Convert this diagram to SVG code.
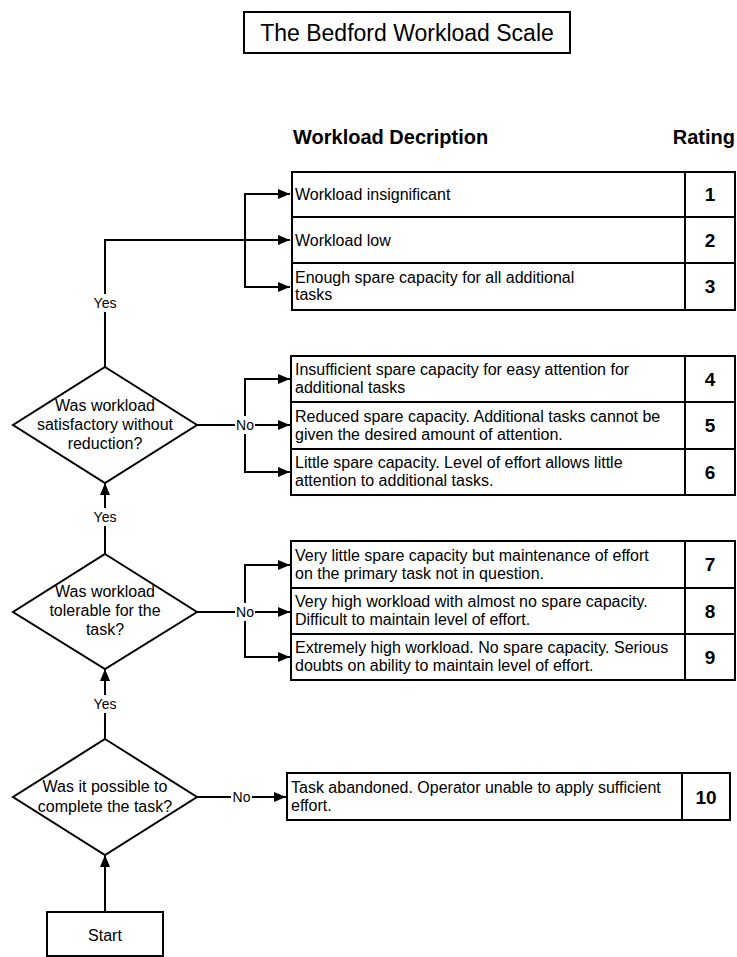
<svg xmlns="http://www.w3.org/2000/svg" width="737" height="957" viewBox="0 0 737 957">
<style>
.box{fill:#fff;stroke:#000;stroke-width:2}
.ln{fill:none;stroke:#000;stroke-width:2}
.t{font-family:"Liberation Sans",Arial,sans-serif;font-size:16px;fill:#000}
.c{text-anchor:middle}
.num{font-family:"Liberation Sans",Arial,sans-serif;font-size:19px;font-weight:bold;text-anchor:middle;fill:#000}
.hd{font-family:"Liberation Sans",Arial,sans-serif;font-size:20px;font-weight:bold;fill:#000}
.lab{font-family:"Liberation Sans",Arial,sans-serif;font-size:14px;text-anchor:middle;fill:#000}
.bg{fill:#fff}
</style>
<defs>
<marker id="ah" markerUnits="userSpaceOnUse" markerWidth="12" markerHeight="10" refX="12" refY="5" orient="auto">
<path d="M0,0 L12,5 L0,10 z" fill="#000"/>
</marker>
</defs>
<rect width="737" height="957" fill="#fff"/>

<g id="title">
<rect class="box" x="244" y="12" width="326" height="41"/>
<text class="t c" x="407" y="41" style="font-size:23px">The Bedford Workload Scale</text>
</g>

<g id="headers">
<text class="hd" x="293" y="144">Workload Decription</text>
<text class="hd" x="735" y="144" text-anchor="end">Rating</text>
</g>

<g id="connectors">
<path class="ln" d="M105,912 V855" marker-end="url(#ah)"/>
<path class="ln" d="M105,739 V669" marker-end="url(#ah)"/>
<path class="ln" d="M105,554 V483" marker-end="url(#ah)"/>
<path class="ln" d="M105,367 V240 H290" marker-end="url(#ah)"/>
<path class="ln" d="M245,240 V194 H290" marker-end="url(#ah)"/>
<path class="ln" d="M245,240 V287 H290" marker-end="url(#ah)"/>
<path class="ln" d="M197,425 H290" marker-end="url(#ah)"/>
<path class="ln" d="M245,425 V379 H290" marker-end="url(#ah)"/>
<path class="ln" d="M245,425 V472 H290" marker-end="url(#ah)"/>
<path class="ln" d="M197,612 H290" marker-end="url(#ah)"/>
<path class="ln" d="M245,612 V565 H290" marker-end="url(#ah)"/>
<path class="ln" d="M245,612 V657 H290" marker-end="url(#ah)"/>
<path class="ln" d="M197,797 H286" marker-end="url(#ah)"/>
<rect class="bg" x="91" y="294" width="28" height="18"/>
<text class="lab" x="105" y="308">Yes</text>
<rect class="bg" x="91" y="508" width="28" height="18"/>
<text class="lab" x="105" y="522">Yes</text>
<rect class="bg" x="91" y="695" width="28" height="18"/>
<text class="lab" x="105" y="709">Yes</text>
<rect class="bg" x="235" y="416" width="20" height="18"/>
<text class="lab" x="245" y="430">No</text>
<rect class="bg" x="235" y="603" width="20" height="18"/>
<text class="lab" x="245" y="617">No</text>
<rect class="bg" x="231" y="788" width="21" height="18"/>
<text class="lab" x="241.5" y="802">No</text>
</g>

<g id="q1">
<polygon class="box" points="105,367 197,425 105,483 13,425"/>
<text class="t c" x="105" y="411">Was workload</text>
<text class="t c" x="105" y="430">satisfactory without</text>
<text class="t c" x="105" y="449">reduction?</text>
</g>
<g id="q2">
<polygon class="box" points="105,554 197,612 105,669 13,612"/>
<text class="t c" x="105" y="597">Was workload</text>
<text class="t c" x="105" y="616">tolerable for the</text>
<text class="t c" x="105" y="635">task?</text>
</g>
<g id="q3">
<polygon class="box" points="105,739 197,797 105,855 13,797"/>
<text class="t c" x="105" y="792">Was it possible to</text>
<text class="t c" x="105" y="812">complete the task?</text>
</g>
<g id="start">
<rect class="box" x="47" y="912" width="116" height="44"/>
<text class="t c" x="105" y="941">Start</text>
</g>

<g id="r1">
<rect class="box" x="292" y="172" width="393" height="45"/>
<rect class="box" x="685" y="172" width="50" height="45"/>
<text class="t" x="295" y="200">Workload insignificant</text>
<text class="num" x="710" y="201">1</text>
</g>
<g id="r2">
<rect class="box" x="292" y="217" width="393" height="46"/>
<rect class="box" x="685" y="217" width="50" height="46"/>
<text class="t" x="295" y="246">Workload low</text>
<text class="num" x="710" y="247">2</text>
</g>
<g id="r3">
<rect class="box" x="292" y="263" width="393" height="47"/>
<rect class="box" x="685" y="263" width="50" height="47"/>
<text class="t" x="295" y="283">Enough spare capacity for all additional</text>
<text class="t" x="295" y="300">tasks</text>
<text class="num" x="710" y="293">3</text>
</g>

<g id="r4">
<rect class="box" x="291" y="356" width="394" height="46"/>
<rect class="box" x="685" y="356" width="50" height="46"/>
<text class="t" x="295" y="375">Insufficient spare capacity for easy attention for</text>
<text class="t" x="295" y="393">additional tasks</text>
<text class="num" x="710" y="386">4</text>
</g>
<g id="r5">
<rect class="box" x="291" y="402" width="394" height="47"/>
<rect class="box" x="685" y="402" width="50" height="47"/>
<text class="t" x="295" y="422">Reduced spare capacity. Additional tasks cannot be</text>
<text class="t" x="295" y="440">given the desired amount of attention.</text>
<text class="num" x="710" y="432">5</text>
</g>
<g id="r6">
<rect class="box" x="291" y="449" width="394" height="46"/>
<rect class="box" x="685" y="449" width="50" height="46"/>
<text class="t" x="295" y="468">Little spare capacity. Level of effort allows little</text>
<text class="t" x="295" y="486">attention to additional tasks.</text>
<text class="num" x="710" y="479">6</text>
</g>

<g id="r7">
<rect class="box" x="291" y="541" width="394" height="47"/>
<rect class="box" x="685" y="541" width="50" height="47"/>
<text class="t" x="295" y="561">Very little spare capacity but maintenance of effort</text>
<text class="t" x="295" y="579">on the primary task not in question.</text>
<text class="num" x="710" y="571">7</text>
</g>
<g id="r8">
<rect class="box" x="291" y="588" width="394" height="46"/>
<rect class="box" x="685" y="588" width="50" height="46"/>
<text class="t" x="295" y="607">Very high workload with almost no spare capacity.</text>
<text class="t" x="295" y="625">Difficult to maintain level of effort.</text>
<text class="num" x="710" y="618">8</text>
</g>
<g id="r9">
<rect class="box" x="291" y="634" width="394" height="46"/>
<rect class="box" x="685" y="634" width="50" height="46"/>
<text class="t" x="295" y="653">Extremely high workload. No spare capacity. Serious</text>
<text class="t" x="295" y="671">doubts on ability to maintain level of effort.</text>
<text class="num" x="710" y="664">9</text>
</g>

<g id="r10">
<rect class="box" x="287" y="773" width="395" height="47"/>
<rect class="box" x="682" y="773" width="48" height="47"/>
<text class="t" x="291" y="793">Task abandoned. Operator unable to apply sufficient</text>
<text class="t" x="291" y="811">effort.</text>
<text class="num" x="706" y="804">10</text>
</g>
</svg>
